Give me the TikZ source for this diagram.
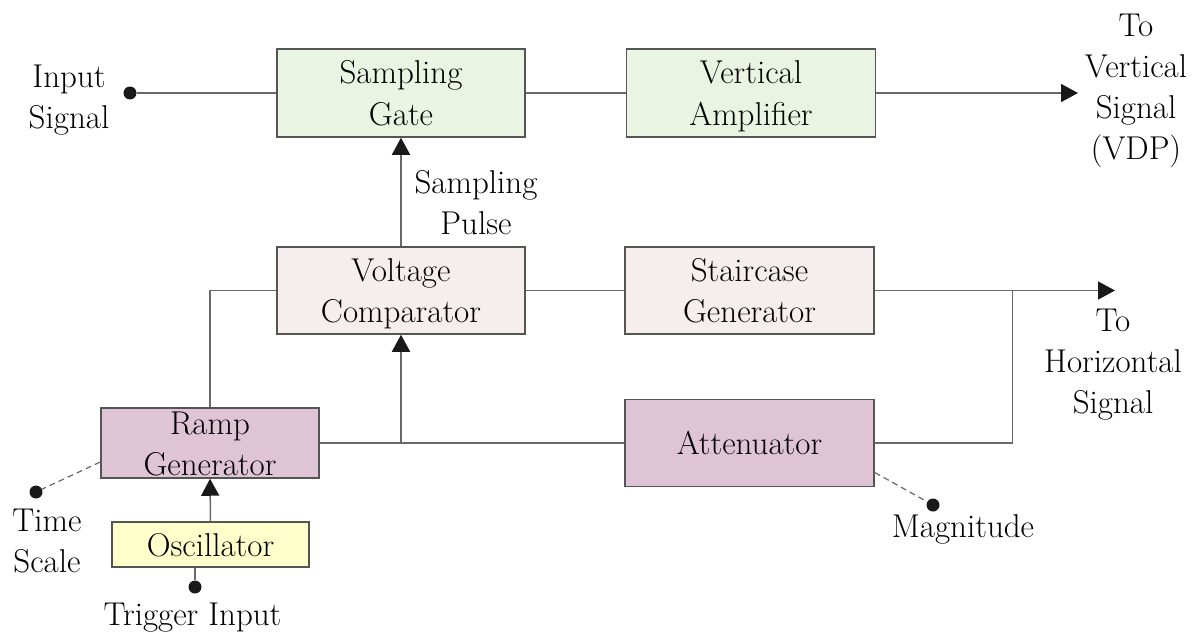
\documentclass[tikz,border=0pt]{standalone}
\usetikzlibrary{arrows.meta}
\definecolor{gfill}{RGB}{234,244,226}
\definecolor{pfill}{RGB}{245,237,238}
\definecolor{mfill}{RGB}{222,196,213}
\definecolor{yfill}{RGB}{255,255,204}
\definecolor{bord}{RGB}{85,85,85}
\definecolor{wire}{RGB}{105,105,105}
\definecolor{tipc}{RGB}{25,25,25}
\newcommand\dfont{\rmfamily\fontsize{33}{41}\selectfont}
\newcommand\mlines[1]{{\dfont\begin{tabular}[t]{@{}c@{}}#1\end{tabular}}}
\newcommand\oneline[1]{{\dfont #1}}
\tikzset{
  blk/.style={draw=bord, line width=1.5pt, rectangle, inner sep=0pt,
    text height=23pt, text depth=0pt},
  blk2/.style={blk, text depth=41pt},
  lbl/.style={inner sep=0pt, anchor=base},
  wr/.style={draw=wire, line width=1.5pt},
  arr/.style={wr, -{Triangle[length=17pt,width=18pt,color=tipc]}},
  dsh/.style={draw=wire, line width=1.2pt, dash pattern=on 6pt off 4pt},
  dot/.style={circle, fill=tipc, inner sep=0pt, minimum size=13pt},
}
\begin{document}
\begin{tikzpicture}[x=1pt,y=-1pt]
\useasboundingbox (0,0) rectangle (1199,634);
% blocks
\node[blk2, fill=gfill, minimum width=248pt, minimum height=88pt] (sg) at (401,93) {\mlines{Sampling\\Gate}};
\node[blk2, fill=gfill, minimum width=249pt, minimum height=88pt] (va) at (751,93) {\mlines{Vertical\\Amplifier}};
\node[blk2, fill=pfill, minimum width=248pt, minimum height=87pt] (vc) at (401,290.5) {\mlines{Voltage\\Comparator}};
\node[blk2, fill=pfill, minimum width=249pt, minimum height=87pt] (stc) at (749.5,290.5) {\mlines{Staircase\\Generator}};
\node[blk2, fill=mfill, minimum width=218pt, minimum height=70pt] (ramp) at (210,443) {\mlines{Ramp\\Generator}};
\node[blk, fill=mfill, minimum width=249pt, minimum height=87pt] (att) at (749.5,443) {\oneline{Attenuator}};
\node[blk, fill=yfill, minimum width=197pt, minimum height=45pt] (osc) at (210.5,544.5) {\oneline{Oscillator}};
% terminals
\node[dot] (indot) at (130,93) {};
\node[dot] (trigdot) at (195,587) {};
\node[dot] (tsdot) at (36,492) {};
\node[dot] (magdot) at (933,505) {};
\coordinate (vout) at (1078,93);
\coordinate (hout) at (1115,290.5);
\coordinate (jr) at (1012.5,290.5);
% labels
\node[lbl] (inlbl) at (69,87) {\mlines{Input\\Signal}};
\node[lbl] (splbl) at (476,193) {\mlines{Sampling\\Pulse}};
\node[lbl] (vlbl) at (1136,37) {\mlines{To\\Vertical\\Signal\\(VDP)}};
\node[lbl] (hlbl) at (1113,331) {\mlines{To\\Horizontal\\Signal}};
\node[lbl] (tslbl) at (47,531) {\mlines{Time\\Scale}};
\node[lbl] (trlbl) at (192.5,625) {\oneline{Trigger Input}};
\node[lbl] (mglbl) at (963,537) {\oneline{Magnitude}};
% connectors
\draw[wr] (indot) -- (sg.west);
\draw[wr] (sg.east) -- (va.west);
\draw[arr] (va.east) -- (vout);
\draw[arr] (vc.north) -- (sg.south);
\draw[wr] (ramp.north) |- (vc.west);
\draw[wr] (vc.east) -- (stc.west);
\draw[arr] (stc.east) -- (hout);
\draw[wr] (att.east) -| (jr);
\draw[wr] (ramp.east) -- (att.west);
\draw[arr] (vc.south |- ramp.east) -- (vc.south);
\draw[arr] (osc.north) -- (ramp.south);
\draw[wr] (trigdot) -- (trigdot |- osc.south);
\draw[dsh] ([yshift=-19pt]ramp.west) -- (tsdot);
\draw[dsh] ([yshift=-29.5pt]att.east) -- (magdot);
\end{tikzpicture}
\end{document}
